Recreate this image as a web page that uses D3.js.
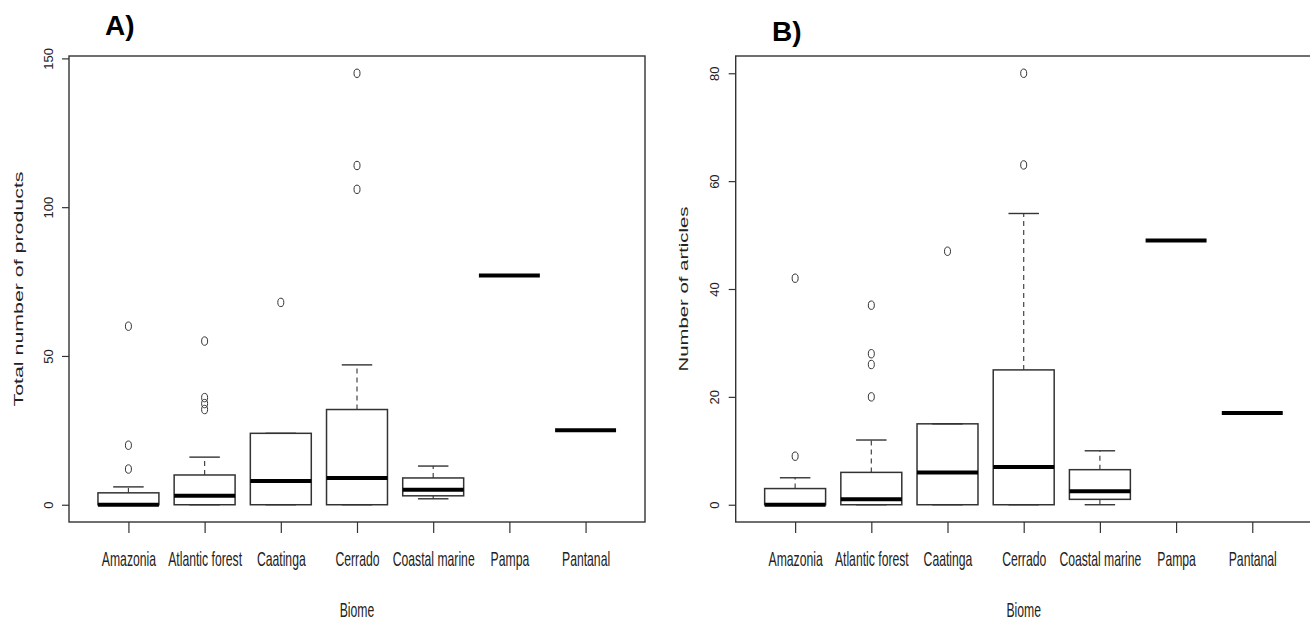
<!DOCTYPE html>
<html>
<head>
<meta charset="utf-8">
<script src="https://cdn.jsdelivr.net/npm/d3@7"></script>
<style>
  body { margin: 0; background: #fff; }
  svg { display: block; font-family: "Liberation Sans", Arial, sans-serif; }
</style>
</head>
<body>
<svg id="chart" width="1310" height="623"></svg>
<script>
// biomes along x
var biomes = ["Amazonia", "Atlantic forest", "Caatinga", "Cerrado", "Coastal marine", "Pampa", "Pantanal"];

// A) total number of products - box stats
var prodLow  = [0, 0, 0, 0, 2, 77, 25];
var prodQ1   = [0, 0, 0, 0, 3, 77, 25];
var prodMed  = [0, 3, 8, 9, 5, 77, 25];
var prodQ3   = [4, 10, 24, 32, 9, 77, 25];
var prodHigh = [6, 16, 24, 47, 13, 77, 25];
var prodOut  = [[60, 20, 12], [55, 36, 34, 32], [68], [145, 114, 106], [], [], []];
var prodTicks = [0, 50, 100, 150];

// B) number of articles
var artLow  = [0, 0, 0, 0, 0, 49, 17];
var artQ1   = [0, 0, 0, 0, 1, 49, 17];
var artMed  = [0, 1, 6, 7, 2.5, 49, 17];
var artQ3   = [3, 6, 15, 25, 6.5, 49, 17];
var artHigh = [5, 12, 15, 54, 10, 49, 17];
var artOut  = [[42, 9], [37, 28, 26, 20], [47], [80, 63], [], [], []];
var artTicks = [0, 20, 40, 60, 80];

var svg = d3.select("#chart");
var top_ = 56, bottom = 522, plotW = 576;

function panel(opts) {
	var left = opts.left;
	var g = svg.append("g");

	// R style: xlim 0.5..n+0.5, padded 4%
	var n = biomes.length;
	var pad = 0.04 * n;
	var x = d3.scaleLinear().domain([0.5 - pad, n + 0.5 + pad]).range([left, left + plotW]);

	var all = opts.low.concat(opts.high, d3.merge(opts.out));
	var lo = d3.min(all), hi = d3.max(all), ypad = 0.04 * (hi - lo);
	var y = d3.scaleLinear().domain([lo - ypad, hi + ypad]).range([bottom, top_]);

	var bw = 0.8 * (x(2) - x(1));

	var rows = biomes.map(function(b, i) {
		return {i: i + 1, low: opts.low[i], q1: opts.q1[i], med: opts.med[i], q3: opts.q3[i], high: opts.high[i], out: opts.out[i]};
	});

	var box = g.selectAll(".bx").data(rows).enter().append("g").attr("class", "bx");

	// whiskers (dashed)
	box.filter(function(d) { return d.high > d.q3; }).append("line")
		.attr("x1", function(d) { return x(d.i); }).attr("x2", function(d) { return x(d.i); })
		.attr("y1", function(d) { return y(d.q3); }).attr("y2", function(d) { return y(d.high); })
		.attr("stroke", "#444").attr("stroke-width", 1.2).attr("stroke-dasharray", "5,4");
	box.filter(function(d) { return d.low < d.q1; }).append("line")
		.attr("x1", function(d) { return x(d.i); }).attr("x2", function(d) { return x(d.i); })
		.attr("y1", function(d) { return y(d.q1); }).attr("y2", function(d) { return y(d.low); })
		.attr("stroke", "#444").attr("stroke-width", 1.2).attr("stroke-dasharray", "5,4");

	// staples
	["low", "high"].forEach(function(k) {
		box.append("line")
			.attr("x1", function(d) { return x(d.i) - bw / 4; }).attr("x2", function(d) { return x(d.i) + bw / 4; })
			.attr("y1", function(d) { return y(d[k]); }).attr("y2", function(d) { return y(d[k]); })
			.attr("stroke", "#333").attr("stroke-width", 1.4);
	});

	// boxes
	box.append("rect")
		.attr("x", function(d) { return x(d.i) - bw / 2; })
		.attr("y", function(d) { return y(d.q3); })
		.attr("width", bw)
		.attr("height", function(d) { return y(d.q1) - y(d.q3); })
		.attr("fill", "none").attr("stroke", "#333").attr("stroke-width", 1.5);

	// medians
	box.append("line")
		.attr("x1", function(d) { return x(d.i) - bw / 2; }).attr("x2", function(d) { return x(d.i) + bw / 2; })
		.attr("y1", function(d) { return y(d.med); }).attr("y2", function(d) { return y(d.med); })
		.attr("stroke", "#000").attr("stroke-width", 4);

	// outliers
	box.selectAll("ellipse").data(function(d) { return d.out.map(function(v) { return {i: d.i, v: v}; }); })
		.enter().append("ellipse")
		.attr("cx", function(d) { return x(d.i); })
		.attr("cy", function(d) { return y(d.v); })
		.attr("rx", 3).attr("ry", 4.2)
		.attr("fill", "none").attr("stroke", "#333").attr("stroke-width", 1);

	// frame
	g.append("rect").attr("x", left).attr("y", top_).attr("width", plotW).attr("height", bottom - top_)
		.attr("fill", "none").attr("stroke", "#333").attr("stroke-width", 1.4);

	// y axis
	var ya = g.append("g").attr("transform", "translate(" + left + ",0)")
		.call(d3.axisLeft(y).tickValues(opts.ticks).tickSize(7).tickSizeOuter(0));
	ya.select(".domain").remove();
	ya.selectAll("line").attr("stroke", "#333").attr("stroke-width", 1.2);
	ya.selectAll("text")
		.attr("transform", "rotate(-90)")
		.attr("x", 0).attr("y", -16.5).attr("dy", 0)
		.attr("text-anchor", "middle")
		.attr("font-size", 13).attr("fill", "#222");

	// x axis
	var xa = g.append("g").attr("transform", "translate(0," + bottom + ")")
		.call(d3.axisBottom(x).tickValues(d3.range(1, n + 1)).tickSize(11).tickSizeOuter(0)
			.tickFormat(function(i) { return biomes[i - 1]; }));
	xa.select(".domain").remove();
	xa.selectAll("line").attr("stroke", "#333").attr("stroke-width", 1.2);
	xa.selectAll("text")
		.attr("transform", "scale(0.61,1)")
		.attr("y", 44).attr("dy", 0)
		.attr("font-size", 20).attr("fill", "#222");

	// axis titles
	g.append("text")
		.attr("transform", "translate(" + ((left + left + plotW) / 2) + ",617) scale(0.61,1)")
		.attr("text-anchor", "middle").attr("font-size", 20).attr("fill", "#222")
		.text("Biome");

	g.append("text")
		.attr("transform", "translate(" + opts.titleX + "," + ((top_ + bottom) / 2) + ") rotate(-90)")
		.attr("text-anchor", "middle").attr("font-size", 13).attr("fill", "#222")
		.attr("textLength", opts.titleLen).attr("lengthAdjust", "spacingAndGlyphs")
		.text(opts.title);

	// panel letter
	g.append("text")
		.attr("x", opts.tagX).attr("y", opts.tagY)
		.attr("font-size", 28).attr("font-weight", "bold").attr("fill", "#000")
		.text(opts.tag);
}

panel({left: 69, low: prodLow, q1: prodQ1, med: prodMed, q3: prodQ3, high: prodHigh, out: prodOut,
	ticks: prodTicks, title: "Total number of products", titleX: 22.5, titleLen: 235,
	tag: "A)", tagX: 105, tagY: 35});

panel({left: 735.7, low: artLow, q1: artQ1, med: artMed, q3: artQ3, high: artHigh, out: artOut,
	ticks: artTicks, title: "Number of articles", titleX: 688, titleLen: 165,
	tag: "B)", tagX: 772, tagY: 40.5});
</script>
</body>
</html>
